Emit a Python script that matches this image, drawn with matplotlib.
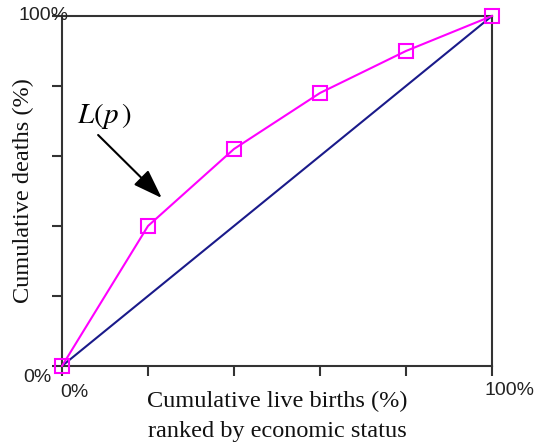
import matplotlib
matplotlib.use("Agg")
import matplotlib.pyplot as plt

# cumulative shares
births_pct = [0, 20, 40, 60, 80, 100]
deaths_pct = [0, 40, 62, 78, 90, 100]
equality = [0, 100]

fig = plt.figure(figsize=(5.34, 4.44), dpi=100)
ax = fig.add_axes([0.1161, 0.1757, 0.8052, 0.7883])

ax.plot(equality, equality, color="#1a1a8a", linewidth=1.5, zorder=2)
ax.plot(births_pct, deaths_pct, color="#ff00ff", linewidth=1.5,
        marker="s", markersize=10, markerfacecolor="none",
        markeredgecolor="#ff00ff", markeredgewidth=1.5, zorder=3, clip_on=False)

ax.set_xlim(0, 100)
ax.set_ylim(0, 100)
ax.set_xticks(births_pct)
ax.set_yticks([0, 20, 40, 60, 80, 100])
ax.set_xticklabels([])
ax.set_yticklabels([])
ax.tick_params(direction="out", length=7, width=1.5, color="#333333")
for s in ax.spines.values():
    s.set_linewidth(1.5)
    s.set_color("#333333")

# only the end ticks carry labels, set a little off the ticks like the original
tick_font = dict(family="Liberation Sans", fontsize=14, color="#222222")
ax.text(-5.8, -3.4, "0%", ha="center", va="center", clip_on=False, **tick_font)
ax.text(-4.2, 100, "100%", ha="center", va="center", clip_on=False, **tick_font)
ax.text(2.8, -7.7, "0%", ha="center", va="center", clip_on=False, **tick_font)
ax.text(104, -6.9, "100%", ha="center", va="center", clip_on=False, **tick_font)

label_font = dict(family="Liberation Serif", fontsize=17.5, color="#111111")
ax.text(50, -7.2, "Cumulative live births (%)\nranked by economic status",
        ha="center", va="top", linespacing=1.55, clip_on=False, **label_font)
ax.text(-9.0, 50, "Cumulative deaths (%)", rotation=90, ha="center", va="center",
        clip_on=False, **label_font)

# arrow pointing at the curve
ax.annotate("", xy=(23.2, 48), xytext=(8.4, 66),
            arrowprops=dict(arrowstyle="-|>,head_length=1.0,head_width=0.35",
                            color="black", lw=1.5,
                            mutation_scale=18, shrinkA=0, shrinkB=0))
ax.text(9.8, 71.5, r"$L(p\,)$", fontsize=21, ha="center", va="center",
        math_fontfamily="stix")

fig.savefig("out.png", dpi=100)
